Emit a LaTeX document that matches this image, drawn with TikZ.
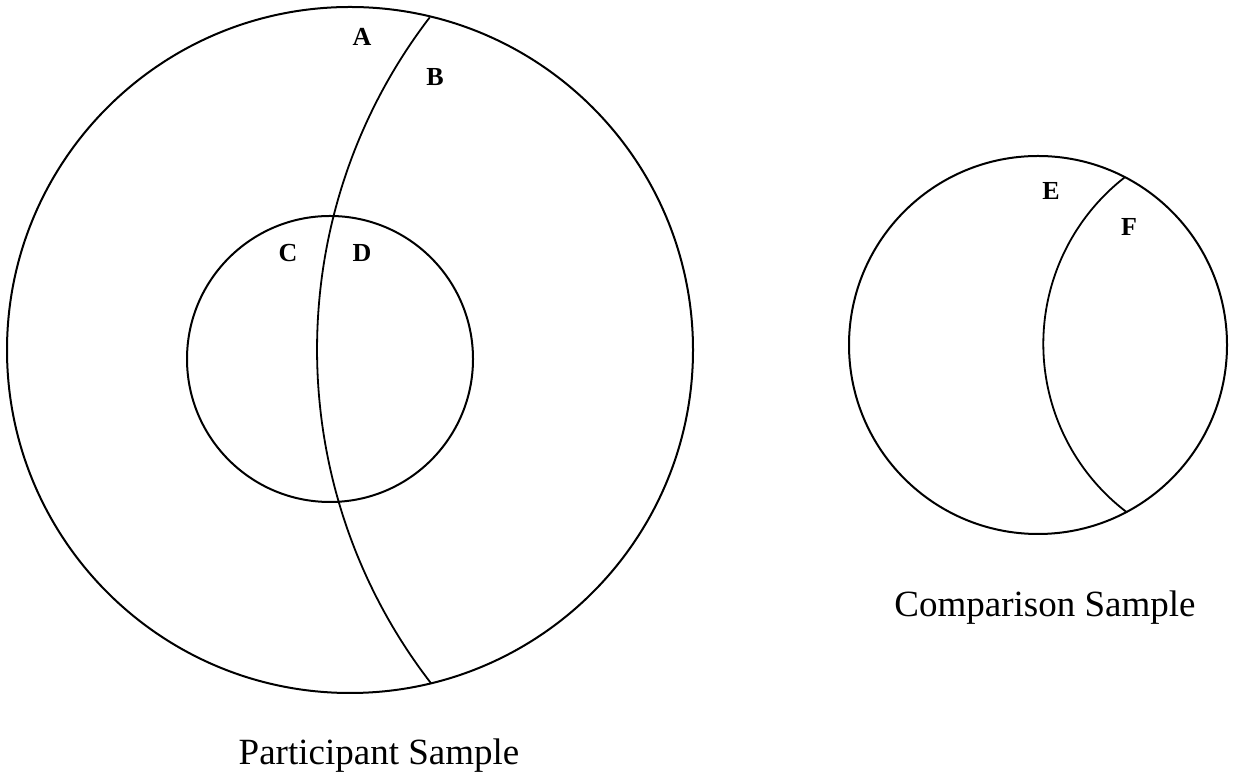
\documentclass[tikz,border=0pt]{standalone}
\usepackage{fontspec}
\setmainfont{Liberation Serif}
\usetikzlibrary{calc}
\begin{document}
\begin{tikzpicture}[x=1pt,y=1pt,
  ring/.style={circle, draw, line width=2pt, inner sep=0pt},
  part/.style={line width=1.8pt},
  lbl/.style={font=\bfseries\fontsize{26}{28}\selectfont, inner sep=0pt},
  sampletitle/.style={font=\fontsize{37}{40}\selectfont, inner sep=0pt, anchor=base}]
\useasboundingbox (0,0) rectangle (1233,778);
\node[ring, minimum size=686pt] (big) at (350,428) {};
\node[ring, minimum size=286pt] (inner) at (330,419) {};
\node[ring, minimum size=378pt] (comp) at (1038,433) {};
% chord across participant sample
\coordinate (pc) at (862.7,428.5);
\coordinate (ptop) at ($(pc)+(142.5:545.7)$);
\draw[part] (ptop) arc[start angle=142.5, end angle=217.7, radius=545.7pt];
% chord across comparison sample
\coordinate (cc) at (1254.6,434);
\coordinate (ctop) at ($(cc)+(127.8:211.3)$);
\draw[part] (ctop) arc[start angle=127.8, end angle=232.5, radius=211.3pt];
\node[lbl] (A) at (362,741) {A};
\node[lbl] (B) at (435,701) {B};
\node[lbl] (C) at (288,525) {C};
\node[lbl] (D) at (362,525) {D};
\node[lbl] (E) at (1051,587) {E};
\node[lbl] (F) at (1129,551) {F};
\node[sampletitle] (ps) at (379,13) {Participant Sample};
\node[sampletitle] (cs) at (1045,161) {Comparison Sample};
\end{tikzpicture}
\end{document}
